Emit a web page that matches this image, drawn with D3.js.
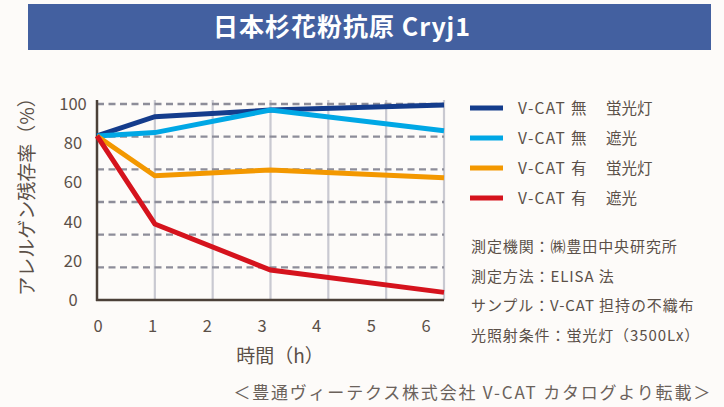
<!DOCTYPE html>
<html>
<head>
<meta charset="utf-8">
<script src="https://cdn.jsdelivr.net/npm/d3@7"></script>
<style>
  body { margin: 0; background: #fdfbf9; }
  svg { display: block; font-family: "Noto Sans CJK JP", "Noto Sans", sans-serif; }
</style>
</head>
<body>
<div id="chart"></div>
<script>
// data
const hours = [0, 1, 3, 6];
const seriesCat = ["V-CAT 無", "V-CAT 無", "V-CAT 有", "V-CAT 有"];
const seriesLight = ["蛍光灯", "遮光", "蛍光灯", "遮光"];
const navyVals = [83.7, 93.5, 96.9, 99.5];
const skyVals = [83.7, 85.4, 96.9, 86.4];
const orangeVals = [83.7, 63.4, 66.3, 62.4];
const redVals = [83.7, 38.8, 15.3, 3.9];
const xTicks = [0, 1, 2, 3, 4, 5, 6];
const yTicks = [0, 20, 40, 60, 80, 100];
const notes = ["測定機関：㈱豊田中央研究所", "測定方法：ELISA 法", "サンプル：V-CAT 担持の不織布", "光照射条件：蛍光灯（3500Lx）"];

const colors = ["#143c8c", "#00a7e5", "#f39800", "#d5131d"];
const series = [navyVals, skyVals, orangeVals, redVals];

const w = 724, h = 407;
const svg = d3.select("#chart").append("svg").attr("width", w).attr("height", h);

svg.append("rect").attr("width", w).attr("height", h).attr("fill", "#fdfbf9");

// title banner
svg.append("rect")
   .attr("x", 28).attr("y", 4).attr("width", 683).attr("height", 46)
   .attr("fill", "#4360a0");
svg.append("text")
   .attr("x", 342).attr("y", 36)
   .attr("text-anchor", "middle")
   .attr("fill", "#fff")
   .attr("font-size", 25).attr("font-weight", 700)
   .attr("letter-spacing", 1)
   .text("日本杉花粉抗原 Cryj1");

// scales
const x = d3.scaleLinear().domain([0, 6]).range([97, 444]);
const xLabel = d3.scaleLinear().domain([0, 6]).range([98, 426]); // labels sit a bit left of the grid in the original
const y = d3.scaleLinear().domain([0, 100]).range([300, 104]);
const yGrid = d3.scaleLinear().domain([0, 6]).range([300, 104]);

// vertical grid
svg.append("g").selectAll("line")
   .data(d3.range(1, 7))
   .enter().append("line")
   .attr("x1", d => x(d)).attr("x2", d => x(d))
   .attr("y1", 100).attr("y2", 300)
   .attr("stroke", "#c9c9d1").attr("stroke-width", 2.2);

// horizontal dashed grid
svg.append("g").selectAll("line")
   .data(d3.range(1, 7))
   .enter().append("line")
   .attr("x1", x(0)).attr("x2", x(6))
   .attr("y1", d => yGrid(d)).attr("y2", d => yGrid(d))
   .attr("stroke", "#8d8d99").attr("stroke-width", 2.4)
   .attr("stroke-dasharray", "7,4.5");

// axes lines
svg.append("line")
   .attr("x1", x(0)).attr("x2", x(0)).attr("y1", 100).attr("y2", 301)
   .attr("stroke", "#4b4038").attr("stroke-width", 2.5);
svg.append("line")
   .attr("x1", x(0) - 1).attr("x2", x(6)).attr("y1", 300).attr("y2", 300)
   .attr("stroke", "#4b4038").attr("stroke-width", 2.5);

// tick labels
svg.append("g").selectAll("text")
   .data(yTicks)
   .enter().append("text")
   .attr("x", 73).attr("y", d => y(d))
   .attr("dy", "0.36em")
   .attr("text-anchor", "middle")
   .attr("font-size", 16.5).attr("fill", "#5b5048")
   .text(d => d);

svg.append("g").selectAll("text")
   .data(xTicks)
   .enter().append("text")
   .attr("x", d => xLabel(d)).attr("y", 326)
   .attr("dy", "0.36em")
   .attr("text-anchor", "middle")
   .attr("font-size", 16.5).attr("fill", "#5b5048")
   .text(d => d);

// axis titles
svg.append("text")
   .attr("transform", "translate(27,192) rotate(-90)")
   .attr("text-anchor", "middle")
   .attr("dy", "0.36em")
   .attr("font-size", 19).attr("fill", "#5b5048")
   .text("アレルゲン残存率（%）");

svg.append("text")
   .attr("x", 280).attr("y", 356)
   .attr("dy", "0.36em")
   .attr("text-anchor", "middle")
   .attr("font-size", 19).attr("fill", "#5b5048")
   .text("時間（h）");

// lines
const line = d3.line().x((d, i) => x(hours[i])).y(d => y(d));
svg.append("g").selectAll("path")
   .data(series)
   .enter().append("path")
   .attr("d", line)
   .attr("fill", "none")
   .attr("stroke", (d, i) => colors[i])
   .attr("stroke-width", 5)
   .attr("stroke-linejoin", "miter");

// legend
const legend = svg.append("g");
seriesCat.forEach((name, i) => {
  const ly = 108 + i * 30;
  legend.append("line")
        .attr("x1", 470).attr("x2", 503).attr("y1", ly).attr("y2", ly)
        .attr("stroke", colors[i]).attr("stroke-width", 5);
  legend.append("text")
        .attr("x", 518).attr("y", ly)
        .attr("dy", "0.36em")
        .attr("font-size", 15.5).attr("letter-spacing", 1.3).attr("fill", "#5b5048")
        .text(name);
  legend.append("text")
        .attr("x", 606).attr("y", ly)
        .attr("dy", "0.36em")
        .attr("font-size", 15.5).attr("fill", "#5b5048")
        .text(seriesLight[i]);
});

// notes
svg.append("g").selectAll("text")
   .data(notes)
   .enter().append("text")
   .attr("x", 471).attr("y", (d, i) => 247 + i * 29.5)
   .attr("dy", "0.36em")
   .attr("font-size", 15).attr("letter-spacing", 0.9).attr("fill", "#5b5048")
   .text(d => d);

// source
svg.append("text")
   .attr("x", 712).attr("y", 393)
   .attr("dy", "0.36em")
   .attr("text-anchor", "end")
   .attr("font-size", 17).attr("letter-spacing", 1.8).attr("fill", "#6b625b")
   .text("＜豊通ヴィーテクス株式会社 V-CAT カタログより転載＞");
</script>
</body>
</html>
